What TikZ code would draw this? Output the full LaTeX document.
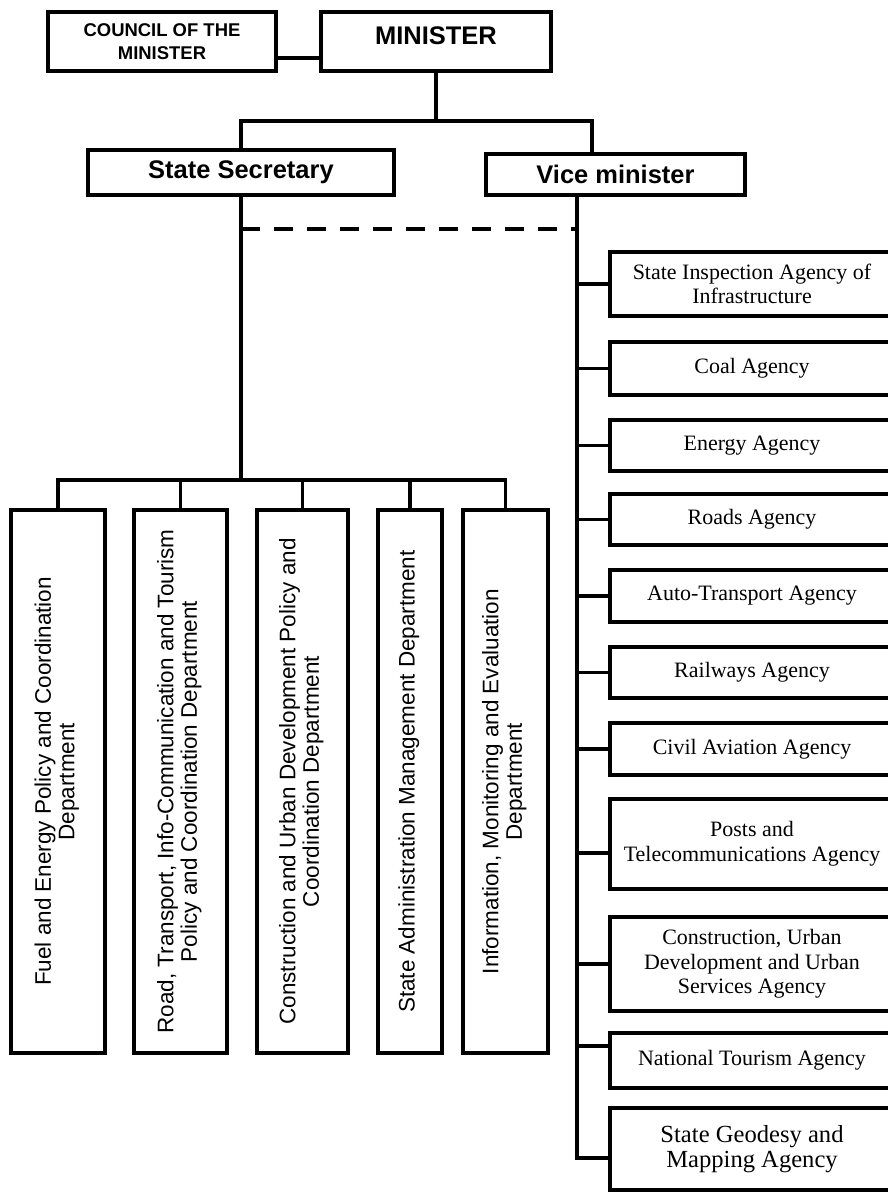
\documentclass[tikz,border=0pt]{standalone}
\usepackage{fontspec}
\setmainfont{Liberation Serif}
\setsansfont{Liberation Sans}
\usepackage{graphicx}
\usepackage{tikz}
\usetikzlibrary{positioning,calc}
\newcommand{\sidetext}[1]{\rotatebox{90}{\begin{tabular}{@{}c@{}}#1\end{tabular}}}
\tikzset{
  box/.style={draw, line width=2.2pt, align=center, inner sep=2pt},
  line/.style={line width=1.9pt}
}

\begin{document}
\begin{tikzpicture}[x=0.02cm, y=-0.02cm,
    head/.style={box, font=\sffamily\bfseries\fontsize{14.5}{16}\selectfont},
    dept/.style={box, font=\sffamily\fontsize{12.8}{13.4}\selectfont, minimum height=10.86cm, inner sep=0pt},
    agency/.style={box, font=\fontsize{12.5}{14}\selectfont, minimum width=5.68cm},
    dashline/.style={line width=2.2pt, dash pattern=on 0.38cm off 0.28cm}
  ]
    \useasboundingbox (0,0) rectangle (888,1193);
    % top of the chart
    \node[head, minimum width=4.56cm, minimum height=1.18cm, font=\sffamily\bfseries\fontsize{10.5}{12.7}\selectfont] (council) at (162,41.5) {COUNCIL OF THE\\MINISTER};
    \node[head, minimum width=4.6cm, minimum height=1.18cm, text height=0.4cm, text depth=0.26cm] (minister) at (436,41.5) {MINISTER};
    \node[head, minimum width=6.12cm, minimum height=0.9cm] (secretary) at (241,172.5) {State Secretary};
    \node[head, minimum width=5.18cm, minimum height=0.82cm] (vice) at (615.5,174.5) {Vice minister};

    \coordinate (fork) at (439,121);
    \coordinate (vbase) at ([xshift=-0.77cm]vice.south);
    \coordinate (dbar) at (241,480);
    \coordinate (dash) at (241,229);

    % departments under the state secretary
    \node[dept, minimum width=1.88cm] (fuel) at (58,781.5) {\sidetext{Fuel and Energy Policy and Coordination\\Department}};
    \node[dept, minimum width=1.86cm] (road) at (180.5,781.5) {\sidetext{Road, Transport, Info-Communication and Tourism\\Policy and Coordination Department}};
    \node[dept, minimum width=1.82cm] (urban) at (302.5,781.5) {\sidetext{Construction and Urban Development Policy and\\Coordination Department}};
    \node[dept, minimum width=1.28cm] (admin) at (410,781.5) {\sidetext{State Administration Management Department}};
    \node[dept, minimum width=1.70cm] (info) at (505.5,781.5) {\sidetext{Information, Monitoring and Evaluation\\Department}};

    % agencies under the vice minister
    \node[agency, minimum height=1.28cm] (inspect) at (752,284) {State Inspection Agency of\\Infrastructure};
    \node[agency, minimum height=1.06cm] (coal) at (752,368.5) {Coal Agency};
    \node[agency, minimum height=1.02cm] (energy) at (752,445.5) {Energy Agency};
    \node[agency, minimum height=1.02cm] (roads) at (752,519.5) {Roads Agency};
    \node[agency, minimum height=1.04cm] (auto) at (752,596) {Auto-Transport Agency};
    \node[agency, minimum height=1.02cm] (rail) at (752,672.5) {Railways Agency};
    \node[agency, minimum height=1.04cm] (aviation) at (752,749) {Civil Aviation Agency};
    \node[agency, minimum height=1.8cm] (posts) at (752,844) {Posts and\\Telecommunications Agency};
    \node[agency, minimum height=1.88cm] (services) at (752,964) {Construction, Urban\\Development and Urban\\Services Agency};
    \node[agency, minimum height=1.1cm] (tourism) at (752,1060.5) {National Tourism Agency};
    \node[agency, minimum height=1.64cm, font=\fontsize{14}{14.5}\selectfont] (geodesy) at (752,1149) {State Geodesy and\\Mapping Agency};

    \coordinate (postsin) at ([yshift=-0.18cm]posts.west);
    \coordinate (tourismin) at ([yshift=0.29cm]tourism.west);
    \coordinate (geodesyin) at ([yshift=-0.18cm]geodesy.west);

    % connectors
    \draw[line] ([yshift=-0.33cm]council.east) -- ([yshift=-0.33cm]minister.west);
    \draw[line] (minister.south) -- (minister.south |- fork);
    \draw[line] (secretary.north) |- (fork) -| ([xshift=-0.47cm]vice.north);
    \draw[line] (secretary.south) -- (dbar);
    \draw[line] (fuel.north) |- (dbar) -| (info.north);
    \draw[line] (road.north) -- (road.north |- dbar);
    \draw[line] (urban.north) -- (urban.north |- dbar);
    \draw[line] (admin.north) -- (admin.north |- dbar);
    \draw[dashline] (dash) -- (dash -| vbase);

    \draw[line] (vbase) |- (geodesyin);
    \draw[line] (vbase |- inspect.west) -- (inspect.west);
    \draw[line] (vbase |- coal.west) -- (coal.west);
    \draw[line] (vbase |- energy.west) -- (energy.west);
    \draw[line] (vbase |- roads.west) -- (roads.west);
    \draw[line] (vbase |- auto.west) -- (auto.west);
    \draw[line] (vbase |- rail.west) -- (rail.west);
    \draw[line] (vbase |- aviation.west) -- (aviation.west);
    \draw[line] (vbase |- postsin) -- (postsin);
    \draw[line] (vbase |- services.west) -- (services.west);
    \draw[line] (vbase |- tourismin) -- (tourismin);
  \end{tikzpicture}
\end{document}
